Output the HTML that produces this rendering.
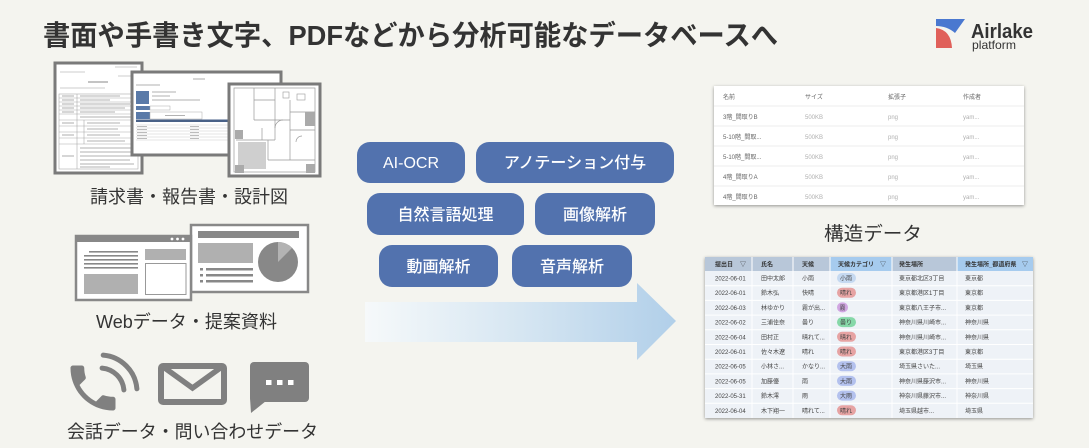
<!DOCTYPE html>
<html><head><meta charset="utf-8">
<style>
html,body{margin:0;padding:0;background:#f4f4ef;}
svg{display:block;}
text{font-family:"Liberation Sans","Noto Sans CJK JP",sans-serif;}
</style></head>
<body>
<svg width="1089" height="448" viewBox="0 0 1089 448" xmlns="http://www.w3.org/2000/svg">
<defs>
<linearGradient id="ag" x1="365" y1="0" x2="676" y2="0" gradientUnits="userSpaceOnUse">
<stop offset="0" stop-color="#f6f9fa"/>
<stop offset="0.5" stop-color="#d6e6f2"/>
<stop offset="1" stop-color="#b1cfe9"/>
</linearGradient>
<filter id="sh" x="-5%" y="-10%" width="110%" height="120%">
<feDropShadow dx="0" dy="1" stdDeviation="1.6" flood-color="#000" flood-opacity="0.4"/>
</filter>
</defs>
<rect width="1089" height="448" fill="#f4f4ef"/>

<!-- Title -->
<text x="43" y="45" font-size="28" font-weight="bold" fill="#333" textLength="735" lengthAdjust="spacingAndGlyphs">書面や手書き文字、PDFなどから分析可能なデータベースへ</text>

<!-- Logo -->
<path d="M936,19 L965,19 L955,33 Q947,26 936,26 Z" fill="#4a78d0"/>
<path d="M936,28 Q951,30 952,48 L936,48 Z" fill="#e0605a"/>
<text x="971" y="38" font-size="20" font-weight="bold" fill="#333" textLength="62" lengthAdjust="spacingAndGlyphs">Airlake</text>
<text x="972" y="49" font-size="12" fill="#333" textLength="44" lengthAdjust="spacingAndGlyphs">platform</text>

<!-- Doc 1 -->
<rect x="55" y="63" width="87" height="110" fill="#fff" stroke="#7a7a7a" stroke-width="3"/>
<g stroke="#bbb" stroke-width="0.8">
<line x1="60" y1="72" x2="85" y2="72"/><line x1="115" y1="67" x2="137" y2="67"/><line x1="118" y1="76" x2="137" y2="76"/>
<line x1="60" y1="88" x2="105" y2="88"/>
</g>
<line x1="88" y1="82" x2="108" y2="82" stroke="#888" stroke-width="1"/>
<g stroke="#aaa" stroke-width="0.6" fill="none">
<rect x="59" y="94" width="79" height="75"/>
<line x1="77" y1="94" x2="77" y2="169"/>
<line x1="59" y1="98" x2="138" y2="98"/><line x1="59" y1="102" x2="138" y2="102"/><line x1="59" y1="106" x2="138" y2="106"/>
<line x1="59" y1="110" x2="138" y2="110"/><line x1="59" y1="114" x2="138" y2="114"/><line x1="59" y1="120" x2="138" y2="120"/>
<line x1="59" y1="126" x2="138" y2="126"/><line x1="59" y1="132" x2="138" y2="132"/><line x1="59" y1="138" x2="138" y2="138"/>
<line x1="59" y1="144" x2="138" y2="144"/>
<line x1="84" y1="120" x2="84" y2="144"/>
</g>
<g stroke="#999" stroke-width="0.8">
<line x1="80" y1="96" x2="120" y2="96"/><line x1="80" y1="100" x2="110" y2="100"/><line x1="80" y1="104" x2="130" y2="104"/>
<line x1="80" y1="108" x2="125" y2="108"/><line x1="80" y1="112" x2="115" y2="112"/><line x1="80" y1="117" x2="135" y2="117"/>
<line x1="87" y1="123" x2="120" y2="123"/><line x1="87" y1="129" x2="118" y2="129"/><line x1="87" y1="135" x2="120" y2="135"/>
<line x1="87" y1="141" x2="125" y2="141"/>
<line x1="80" y1="148" x2="135" y2="148"/><line x1="80" y1="152" x2="132" y2="152"/><line x1="80" y1="156" x2="135" y2="156"/>
<line x1="80" y1="160" x2="130" y2="160"/><line x1="80" y1="164" x2="134" y2="164"/><line x1="80" y1="167" x2="110" y2="167"/>
<line x1="62" y1="96" x2="74" y2="96"/><line x1="62" y1="100" x2="74" y2="100"/><line x1="62" y1="104" x2="74" y2="104"/>
<line x1="62" y1="108" x2="74" y2="108"/><line x1="62" y1="112" x2="74" y2="112"/><line x1="62" y1="123" x2="74" y2="123"/>
<line x1="62" y1="135" x2="74" y2="135"/><line x1="62" y1="156" x2="74" y2="156"/>
</g>

<!-- Doc 2 -->
<rect x="132" y="72" width="149" height="83" fill="#fff" stroke="#7a7a7a" stroke-width="3"/>
<g stroke="#999" stroke-width="0.8">
<line x1="193" y1="79" x2="205" y2="79"/>
<line x1="136" y1="85" x2="160" y2="85"/>
<line x1="152" y1="92" x2="176" y2="92"/><line x1="152" y1="96" x2="170" y2="96"/><line x1="152" y1="100" x2="200" y2="100"/>
</g>
<rect x="136" y="91" width="13" height="13" fill="#5a7aa8"/>
<rect x="136" y="106" width="14" height="4" fill="#5a7aa8"/>
<rect x="150" y="106" width="20" height="4" fill="none" stroke="#aaa" stroke-width="0.5"/>
<rect x="136" y="112" width="14" height="7" fill="#5a7aa8"/>
<rect x="150" y="112" width="52" height="7" fill="none" stroke="#aaa" stroke-width="0.5"/>
<line x1="165" y1="115.5" x2="185" y2="115.5" stroke="#999" stroke-width="0.8"/>
<rect x="136" y="119.5" width="93" height="2.5" fill="#4a6288"/>
<g stroke="#ccc" stroke-width="0.5">
<line x1="136" y1="125" x2="229" y2="125"/><line x1="136" y1="128" x2="229" y2="128"/><line x1="136" y1="131" x2="229" y2="131"/>
<line x1="136" y1="134" x2="229" y2="134"/><line x1="136" y1="137" x2="229" y2="137"/><line x1="136" y1="140" x2="229" y2="140"/>
</g>
<g stroke="#aaa" stroke-width="0.8">
<line x1="137" y1="126.5" x2="147" y2="126.5"/><line x1="137" y1="129.5" x2="147" y2="129.5"/><line x1="137" y1="132.5" x2="147" y2="132.5"/>
<line x1="137" y1="135.5" x2="147" y2="135.5"/><line x1="137" y1="138.5" x2="147" y2="138.5"/>
<line x1="190" y1="126.5" x2="199" y2="126.5"/><line x1="190" y1="129.5" x2="199" y2="129.5"/><line x1="190" y1="132.5" x2="199" y2="132.5"/>
<line x1="190" y1="135.5" x2="199" y2="135.5"/><line x1="190" y1="138.5" x2="199" y2="138.5"/>
</g>

<!-- Doc 3 floor plan -->
<rect x="229" y="84" width="91" height="92" fill="#fff" stroke="#7a7a7a" stroke-width="3"/>
<g stroke="#999" stroke-width="0.7" fill="none">
<rect x="234" y="88" width="81" height="84"/>
<line x1="254" y1="88" x2="254" y2="120"/><line x1="254" y1="100" x2="275" y2="100"/>
<line x1="275" y1="88" x2="275" y2="140"/><line x1="254" y1="120" x2="290" y2="120"/>
<line x1="290" y1="100" x2="290" y2="160"/><line x1="290" y1="112" x2="315" y2="112"/>
<line x1="236" y1="140" x2="275" y2="140"/><line x1="262" y1="128" x2="262" y2="140"/>
<line x1="268" y1="140" x2="268" y2="160"/><line x1="268" y1="160" x2="315" y2="160"/>
<line x1="290" y1="130" x2="315" y2="130"/>
<path d="M275,128 A8,8 0 0 1 283,120"/><path d="M296,142 A6,6 0 0 1 302,136"/>
</g>
<rect x="238" y="142" width="28" height="27" fill="#cfcfcf"/>
<rect x="235" y="130" width="8" height="9" fill="#aaa"/>
<rect x="305" y="112" width="10" height="14" fill="#aaa"/>
<rect x="235" y="165" width="9" height="8" fill="#aaa"/>
<rect x="306" y="164" width="9" height="9" fill="#aaa"/>
<rect x="283" y="92" width="6" height="6" fill="none" stroke="#999" stroke-width="0.6"/>
<rect x="297" y="94" width="8" height="6" fill="none" stroke="#999" stroke-width="0.6"/>

<text x="90" y="203" font-size="18" fill="#333" textLength="198" lengthAdjust="spacingAndGlyphs">請求書・報告書・設計図</text>

<!-- Presentation -->
<rect x="191" y="225" width="117" height="67" fill="#fff" stroke="#888" stroke-width="2.5"/>
<rect x="198" y="231" width="101" height="7" fill="#888"/>
<rect x="198" y="243" width="55" height="20" fill="#b0b0b0"/>
<circle cx="278" cy="262" r="20" fill="#888"/>
<path d="M278,262 L278,242 A20,20 0 0 1 292.1,247.9 Z" fill="#b3b3b3"/>
<g fill="#888">
<rect x="200" y="268" width="3" height="2.5"/><rect x="206" y="268" width="47" height="2.5"/>
<rect x="200" y="274" width="3" height="2.5"/><rect x="206" y="274" width="47" height="2.5"/>
<rect x="200" y="280" width="3" height="2.5"/><rect x="206" y="280" width="47" height="2.5"/>
</g>
<!-- Browser -->
<rect x="76" y="236" width="115" height="64" fill="#fff" stroke="#888" stroke-width="2.5"/>
<rect x="76" y="236" width="115" height="6" fill="#888"/>
<circle cx="172" cy="239" r="1.4" fill="#fff"/><circle cx="177.5" cy="239" r="1.4" fill="#fff"/><circle cx="183" cy="239" r="1.4" fill="#fff"/>
<g fill="#888">
<rect x="89" y="251" width="49" height="1.6"/><rect x="84" y="255" width="54" height="1.6"/><rect x="84" y="259" width="54" height="1.6"/>
<rect x="84" y="263" width="54" height="1.6"/><rect x="84" y="267" width="54" height="1.6"/>
</g>
<rect x="84" y="274" width="54" height="20" fill="#b0b0b0"/>
<rect x="145" y="249" width="41" height="11" fill="#b0b0b0"/>
<rect x="145.5" y="263.5" width="40.5" height="31" fill="#fff" stroke="#999" stroke-width="1"/>

<text x="96" y="328" font-size="18" fill="#333" textLength="181" lengthAdjust="spacingAndGlyphs">Webデータ・提案資料</text>

<!-- Phone -->
<g transform="translate(63,358) scale(2.5)" fill="#808080">
<path d="M6.62 10.79c1.44 2.83 3.76 5.14 6.59 6.59l2.2-2.2c.27-.27.67-.36 1.02-.24 1.12.37 2.33.57 3.57.57.55 0 1 .45 1 1V20c0 .55-.45 1-1 1-9.39 0-17-7.61-17-17 0-.55.45-1 1-1h3.5c.55 0 1 .45 1 1 0 1.25.2 2.45.57 3.57.11.35.03.74-.25 1.02l-2.2 2.2z"/>
</g>
<g fill="none" stroke="#808080" stroke-width="5" stroke-linecap="round">
<path d="M103.2,355.1 A37,37 0 0 1 136.9,388.8"/>
<path d="M102.1,368.1 A24,24 0 0 1 123.9,389.9"/>
</g>
<!-- Mail -->
<rect x="161" y="366" width="63" height="36" rx="2" fill="none" stroke="#808080" stroke-width="6"/>
<path d="M162,366 L192.5,388 L223,366" fill="none" stroke="#808080" stroke-width="5.5"/>
<!-- Chat -->
<rect x="250" y="362" width="59" height="40" rx="4" fill="#808080"/>
<polygon points="250,398 251,413 266,401" fill="#808080"/>
<rect x="266" y="380" width="5.5" height="5" fill="#fff"/><rect x="277" y="380" width="5.5" height="5" fill="#fff"/><rect x="288" y="380" width="5.5" height="5" fill="#fff"/>

<text x="67" y="438" font-size="18" fill="#333" textLength="251" lengthAdjust="spacingAndGlyphs">会話データ・問い合わせデータ</text>

<!-- Arrow -->
<polygon points="365,302 637,302 637,283 676,321 637,360 637,342 365,342" fill="url(#ag)"/>

<!-- Buttons -->
<g fill="#5272ae">
<rect x="357" y="142" width="108" height="41" rx="13"/>
<rect x="476" y="142" width="198" height="41" rx="13"/>
<rect x="367" y="193" width="157" height="42" rx="13"/>
<rect x="535" y="193" width="120" height="42" rx="13"/>
<rect x="379" y="245" width="119" height="42" rx="13"/>
<rect x="512" y="245" width="120" height="42" rx="13"/>
</g>
<g fill="#fff" font-size="16" font-weight="500" text-anchor="middle">
<text x="411" y="168">AI-OCR</text>
<text x="575" y="168">アノテーション付与</text>
<text x="445.5" y="220">自然言語処理</text>
<text x="595" y="220">画像解析</text>
<text x="438.5" y="272">動画解析</text>
<text x="572" y="272">音声解析</text>
</g>

<!-- Table 1 -->
<rect x="714" y="86" width="310" height="119" fill="#fff" filter="url(#sh)"/>
<g stroke="#e6e6e6" stroke-width="0.8">
<line x1="714" y1="106" x2="1024" y2="106"/><line x1="714" y1="126" x2="1024" y2="126"/>
<line x1="714" y1="146" x2="1024" y2="146"/><line x1="714" y1="166" x2="1024" y2="166"/>
<line x1="714" y1="186" x2="1024" y2="186"/>
</g>
<g font-size="6" fill="#666">
<text x="723" y="99">名前</text><text x="805" y="99">サイズ</text><text x="888" y="99">拡張子</text><text x="963" y="99">作成者</text>
<text x="723" y="119">3階_間取りB</text><text x="723" y="139">5-10階_間取...</text><text x="723" y="159">5-10階_間取...</text>
<text x="723" y="179">4階_間取りA</text><text x="723" y="199">4階_間取りB</text>
</g>
<g font-size="6" fill="#b0b0b0">
<text x="805" y="119">500KB</text><text x="888" y="119">png</text><text x="963" y="119">yam...</text>
<text x="805" y="139">500KB</text><text x="888" y="139">png</text><text x="963" y="139">yam...</text>
<text x="805" y="159">500KB</text><text x="888" y="159">png</text><text x="963" y="159">yam...</text>
<text x="805" y="179">500KB</text><text x="888" y="179">png</text><text x="963" y="179">yam...</text>
<text x="805" y="199">500KB</text><text x="888" y="199">png</text><text x="963" y="199">yam...</text>
</g>

<text x="824" y="240" font-size="19" fill="#333" textLength="98" lengthAdjust="spacingAndGlyphs">構造データ</text>

<!-- Table 2 -->
<rect x="705" y="257" width="328" height="161" fill="#eef2f7" filter="url(#sh)"/>
<rect x="705" y="257" width="125" height="14" fill="#b8c7d9"/>
<rect x="830" y="257" width="62" height="14" fill="#a6cbee"/>
<rect x="892" y="257" width="65" height="14" fill="#b8c7d9"/>
<rect x="957" y="257" width="76" height="14" fill="#a6cbee"/>
<g stroke="#fff" stroke-width="1">
<line x1="752" y1="257" x2="752" y2="418"/><line x1="793" y1="257" x2="793" y2="418"/>
<line x1="830" y1="257" x2="830" y2="418"/><line x1="892" y1="257" x2="892" y2="418"/>
<line x1="957" y1="257" x2="957" y2="418"/>
<line x1="705" y1="285.7" x2="1033" y2="285.7"/><line x1="705" y1="300.4" x2="1033" y2="300.4"/>
<line x1="705" y1="315.1" x2="1033" y2="315.1"/><line x1="705" y1="329.8" x2="1033" y2="329.8"/>
<line x1="705" y1="344.5" x2="1033" y2="344.5"/><line x1="705" y1="359.2" x2="1033" y2="359.2"/>
<line x1="705" y1="373.9" x2="1033" y2="373.9"/><line x1="705" y1="388.6" x2="1033" y2="388.6"/>
<line x1="705" y1="403.3" x2="1033" y2="403.3"/>
</g>
<g font-size="6" font-weight="bold" fill="#333">
<text x="715" y="266.5">提出日</text><text x="740" y="266.5" font-weight="normal">▽</text>
<text x="761" y="266.5">氏名</text><text x="802" y="266.5">天候</text>
<text x="838" y="266.5">天候カテゴリ</text><text x="880" y="266.5" font-weight="normal">▽</text>
<text x="899" y="266.5">発生場所</text>
<text x="965" y="266.5">発生場所_都道府県</text><text x="1022" y="266.5" font-weight="normal">▽</text>
</g>
<!-- pills -->
<rect x="837" y="273" width="19" height="10" rx="5" fill="#c5d9f1"/>
<rect x="837" y="287.7" width="19" height="10" rx="5" fill="#e6a3a3"/>
<rect x="837" y="302.4" width="11" height="10" rx="5" fill="#d1a6e2"/>
<rect x="837" y="317.1" width="19" height="10" rx="5" fill="#86d8a8"/>
<rect x="837" y="331.8" width="19" height="10" rx="5" fill="#e6a3a3"/>
<rect x="837" y="346.5" width="19" height="10" rx="5" fill="#e6a3a3"/>
<rect x="837" y="361.2" width="19" height="10" rx="5" fill="#b3c1ee"/>
<rect x="837" y="375.9" width="19" height="10" rx="5" fill="#b3c1ee"/>
<rect x="837" y="390.6" width="19" height="10" rx="5" fill="#b3c1ee"/>
<rect x="837" y="405.3" width="19" height="10" rx="5" fill="#e6a3a3"/>
<g font-size="6" fill="#444">
<text x="715" y="280.5">2022-06-01</text><text x="761" y="280.5">田中太郎</text><text x="802" y="280.5">小雨</text><text x="840" y="280.5">小雨</text><text x="899" y="280.5">東京都北区3丁目</text><text x="965" y="280.5">東京都</text>
<text x="715" y="295.2">2022-06-01</text><text x="761" y="295.2">鈴木弘</text><text x="802" y="295.2">快晴</text><text x="840" y="295.2">晴れ</text><text x="899" y="295.2">東京都港区1丁目</text><text x="965" y="295.2">東京都</text>
<text x="715" y="309.9">2022-06-03</text><text x="761" y="309.9">林ゆかり</text><text x="802" y="309.9">霧が出...</text><text x="839.5" y="309.9">霧</text><text x="899" y="309.9">東京都八王子市...</text><text x="965" y="309.9">東京都</text>
<text x="715" y="324.6">2022-06-02</text><text x="761" y="324.6">三浦佳奈</text><text x="802" y="324.6">曇り</text><text x="840" y="324.6">曇り</text><text x="899" y="324.6">神奈川県川崎市...</text><text x="965" y="324.6">神奈川県</text>
<text x="715" y="339.3">2022-06-04</text><text x="761" y="339.3">田村正</text><text x="802" y="339.3">晴れて...</text><text x="840" y="339.3">晴れ</text><text x="899" y="339.3">神奈川県川崎市...</text><text x="965" y="339.3">神奈川県</text>
<text x="715" y="354">2022-06-01</text><text x="761" y="354">佐々木遼</text><text x="802" y="354">晴れ</text><text x="840" y="354">晴れ</text><text x="899" y="354">東京都港区3丁目</text><text x="965" y="354">東京都</text>
<text x="715" y="368.7">2022-06-05</text><text x="761" y="368.7">小林さ...</text><text x="802" y="368.7">かなり...</text><text x="840" y="368.7">大雨</text><text x="899" y="368.7">埼玉県さいた...</text><text x="965" y="368.7">埼玉県</text>
<text x="715" y="383.4">2022-06-05</text><text x="761" y="383.4">加藤優</text><text x="802" y="383.4">雨</text><text x="840" y="383.4">大雨</text><text x="899" y="383.4">神奈川県藤沢市...</text><text x="965" y="383.4">神奈川県</text>
<text x="715" y="398.1">2022-05-31</text><text x="761" y="398.1">鈴木澪</text><text x="802" y="398.1">雨</text><text x="840" y="398.1">大雨</text><text x="899" y="398.1">神奈川県藤沢市...</text><text x="965" y="398.1">神奈川県</text>
<text x="715" y="412.8">2022-06-04</text><text x="761" y="412.8">木下翔一</text><text x="802" y="412.8">晴れて...</text><text x="840" y="412.8">晴れ</text><text x="899" y="412.8">埼玉県越市...</text><text x="965" y="412.8">埼玉県</text>
</g>
</svg>
</body></html>
